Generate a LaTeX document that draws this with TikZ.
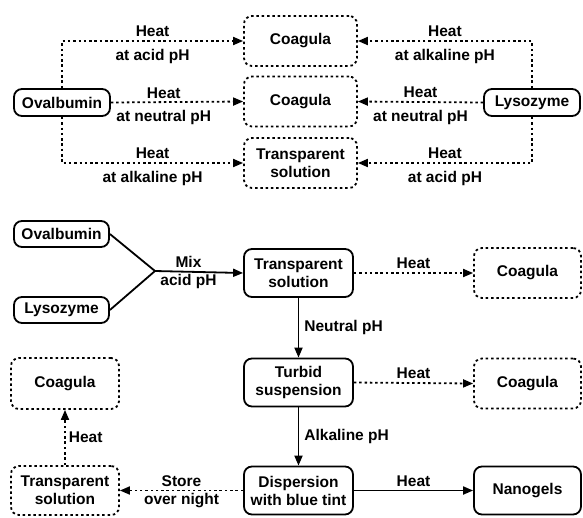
\documentclass[tikz,border=0pt]{standalone}
\usepackage{fontspec}
\setmainfont{Liberation Sans}
\usetikzlibrary{arrows.meta}

\begin{document}
\begin{tikzpicture} [x=1pt, y=-1pt, font=\bfseries\fontsize{15.5}{18}\selectfont, every text node part/.style={align=center}]
        \tikzset{
          box/.style={draw, line width=1.8pt, rounded corners=8pt, inner sep=0pt},
          dotbox/.style={box, dash pattern=on 2.5pt off 2.8pt},
          link/.style={line width=1.8pt, -{Triangle[length=10pt,width=8pt]}},
          dotlink/.style={link, dash pattern=on 2.5pt off 2.8pt},
          uplabel/.style={above=1pt, inner sep=2pt},
          downlabel/.style={below=5pt, inner sep=2pt},
        }
        \useasboundingbox (0,0) rectangle (583,517);
        \node [box, minimum width=96pt, minimum height=27pt] (ova) at (62,102.5) {Ovalbumin};
        \node [box, minimum width=96pt, minimum height=27pt] (lys) at (532,102.5) {Lysozyme};
        \node [dotbox, minimum width=113pt, minimum height=50pt] (coagA) at (300.5,41) {Coagula};
        \node [dotbox, minimum width=113pt, minimum height=50pt] (coagB) at (300.5,101.5) {Coagula};
        \node [dotbox, minimum width=113pt, minimum height=50pt] (transA) at (300.5,163) {Transparent\\solution};
        \draw [dotlink] (ova.north) |- (coagA.west) node [pos=0.75, uplabel] {Heat} node [pos=0.75, downlabel] {at acid pH};
        \draw [dotlink] (ova.east) -- (coagB.west) node [pos=0.4, uplabel] {Heat} node [pos=0.4, downlabel] {at neutral pH};
        \draw [dotlink] (ova.south) |- (transA.west) node [pos=0.75, uplabel] {Heat} node [pos=0.75, downlabel] {at alkaline pH};
        \draw [dotlink] (lys.north) |- (coagA.east) node [pos=0.75, uplabel] {Heat} node [pos=0.75, downlabel] {at alkaline pH};
        \draw [dotlink] (lys.west) -- (coagB.east) node [pos=0.5, uplabel] {Heat} node [pos=0.5, downlabel] {at neutral pH};
        \draw [dotlink] (lys.south) |- (transA.east) node [pos=0.75, uplabel] {Heat} node [pos=0.75, downlabel] {at acid pH};
        % 
        \node [box, minimum width=95pt, minimum height=26pt] (ovb) at (61.5,234) {Ovalbumin};
        \node [box, minimum width=95pt, minimum height=26pt] (lysb) at (61.5,310) {Lysozyme};
        \coordinate (mix) at (155,271);
        \node [box, minimum width=109pt, minimum height=48pt] (transB) at (298.5,273) {Transparent\\solution};
        \node [box, minimum width=109pt, minimum height=48pt] (turbid) at (298.5,382.5) {Turbid\\suspension};
        \node [box, minimum width=109pt, minimum height=48pt] (disp) at (298.5,490.5) {Dispersion\\with blue tint};
        \node [dotbox, minimum width=107pt, minimum height=50pt] (coagC) at (527.5,273) {Coagula};
        \node [dotbox, minimum width=107pt, minimum height=50pt] (coagD) at (527.5,383.5) {Coagula};
        \node [box, minimum width=107pt, minimum height=48pt] (nano) at (527.5,490.5) {Nanogels};
        \node [dotbox, minimum width=108pt, minimum height=51pt] (coagE) at (65,383.5) {Coagula};
        \node [dotbox, minimum width=108pt, minimum height=49pt] (transC) at (65,490.5) {Transparent\\solution};
        \draw [line width=1.8pt] (ovb.east) -- (mix);
        \draw [line width=1.8pt] (lysb.east) -- (mix);
        \draw [link] (mix) -- (transB.west) node [pos=0.38, uplabel] {Mix} node [pos=0.38, below, inner sep=2pt] {acid pH};
        \draw [dotlink] (transB.east) -- (coagC.west) node [midway, uplabel] {Heat};
        \draw [link] (transB.south) -- (turbid.north) node [midway, right, inner sep=5pt] {Neutral pH};
        \draw [dotlink] (turbid.east) -- (coagD.west) node [midway, uplabel] {Heat};
        \draw [link] (turbid.south) -- (disp.north) node [midway, right, inner sep=5pt] {Alkaline pH};
        \draw [link] (disp.east) -- (nano.west) node [midway, uplabel] {Heat};
        \draw [dotlink] (disp.west) -- (transC.east) node [midway, uplabel] {Store} node [midway, below, inner sep=2pt] {over night};
        \draw [dotlink] (transC.north) -- (coagE.south) node [midway, right, inner sep=3pt] {Heat};
    \end{tikzpicture}
\end{document}
